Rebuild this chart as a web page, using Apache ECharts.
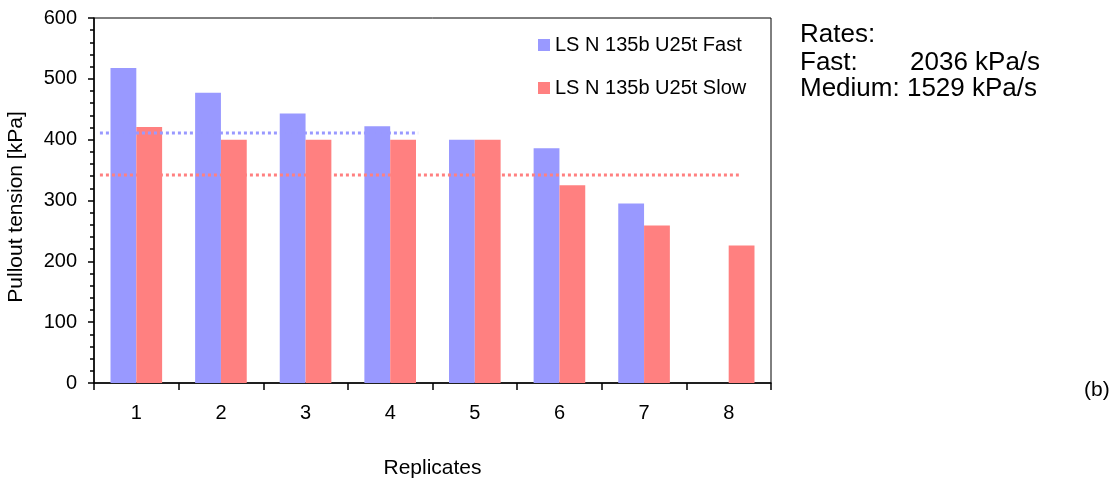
<!DOCTYPE html>
<html>
<head>
<meta charset="utf-8">
<script src="https://cdn.jsdelivr.net/npm/echarts@6/dist/echarts.min.js"></script>
<style>
  html, body { margin: 0; padding: 0; background: #fff; }
  #chart { width: 1117px; height: 484px; }
</style>
</head>
<body>
<div id="chart"></div>
<script>
// ---- data ----
const categories = ['1', '2', '3', '4', '5', '6', '7', '8'];
const fastValues = [518, 477, 443, 422, 400, 386, 295, null];
const slowValues = [421, 400, 400, 400, 400, 325, 259, 226];
const seriesNames = ['LS N 135b U25t Fast', 'LS N 135b U25t Slow'];
const avgFast = 411;
const avgSlow = 342;
// extents of the average lines, in category units along the axis
const avgFastSpan = [0.07, 3.83];
const avgSlowSpan = [0.07, 7.62];
const yTicks = { min: 0, max: 600, interval: 100 };
const yAxisTitle = 'Pullout tension [kPa]';
const xAxisTitle = 'Replicates';
const ratesLines = ['Rates:', 'Fast:', '2036 kPa/s', 'Medium: 1529 kPa/s'];
const panelLabel = '(b)';

const FONT = 'Liberation Sans, Arial, sans-serif';
const BLUE = '#9999FF';
const RED = '#FF8080';

const chart = echarts.init(document.getElementById('chart'), null, { renderer: 'canvas' });

const option = {
  animation: false,
  backgroundColor: '#fff',
  textStyle: { fontFamily: FONT, color: '#000' },
  grid: {
    left: 94, right: 346, top: 18, bottom: 101,
    show: true, borderColor: '#000', borderWidth: 1, backgroundColor: 'transparent'
  },
  legend: {
    orient: 'vertical',
    left: 538, top: 35,
    padding: 0,
    itemWidth: 12, itemHeight: 12, itemGap: 23,
    icon: 'rect',
    textStyle: { fontFamily: FONT, fontSize: 20, color: '#000', lineHeight: 20 },
    data: seriesNames
  },
  xAxis: [
    {
      type: 'category',
      data: categories,
      name: xAxisTitle,
      nameLocation: 'middle',
      nameGap: 75,
      nameTextStyle: { fontFamily: FONT, fontSize: 21, color: '#000' },
      axisLine: { lineStyle: { color: '#000', width: 1.5 } },
      axisTick: { show: true, length: 7, inside: false, lineStyle: { color: '#000', width: 1.5 } },
      axisLabel: { fontFamily: FONT, fontSize: 20, color: '#000', margin: 20, interval: 0 },
      splitLine: { show: false }
    },
    {
      type: 'value', min: 0, max: categories.length, show: false
    }
  ],
  yAxis: {
    type: 'value',
    min: yTicks.min, max: yTicks.max, interval: yTicks.interval,
    axisLine: { show: true, lineStyle: { color: '#000', width: 1.5 } },
    axisTick: { show: true, length: 6, inside: false, lineStyle: { color: '#000', width: 1.5 } },
    minorTick: { show: true, splitNumber: 5, length: 4, lineStyle: { color: '#000', width: 1.5 } },
    axisLabel: { fontFamily: FONT, fontSize: 20, color: '#000', margin: 17 },
    splitLine: { show: false }
  },
  series: [
    {
      name: seriesNames[0], type: 'bar', data: fastValues,
      itemStyle: { color: BLUE },
      barGap: '0%', barCategoryGap: '39%', z: 2
    },
    {
      name: seriesNames[1], type: 'bar', data: slowValues,
      itemStyle: { color: RED },
      barGap: '0%', barCategoryGap: '39%', z: 2
    },
    {
      name: 'avgFast', type: 'line', xAxisIndex: 1,
      data: [[avgFastSpan[0], avgFast], [avgFastSpan[1], avgFast]],
      symbol: 'none', silent: true, z: 3,
      lineStyle: { color: BLUE, width: 3, type: [3, 3] }
    },
    {
      name: 'avgSlow', type: 'line', xAxisIndex: 1,
      data: [[avgSlowSpan[0], avgSlow], [avgSlowSpan[1], avgSlow]],
      symbol: 'none', silent: true, z: 3,
      lineStyle: { color: RED, width: 3, type: [3, 3] }
    }
  ],
  graphic: [
    {
      type: 'text', x: 16, y: 207, rotation: Math.PI / 2,
      style: { text: yAxisTitle, font: '21px ' + FONT, fill: '#000', align: 'center', verticalAlign: 'middle' }
    },
    { type: 'text', left: 800, top: 22, style: { text: ratesLines[0], font: '26px ' + FONT, fill: '#000' } },
    { type: 'text', left: 800, top: 50, style: { text: ratesLines[1], font: '26px ' + FONT, fill: '#000' } },
    { type: 'text', left: 910, top: 50, style: { text: ratesLines[2], font: '26px ' + FONT, fill: '#000' } },
    { type: 'text', left: 800, top: 76, style: { text: ratesLines[3], font: '26px ' + FONT, fill: '#000' } },
    { type: 'text', left: 1084, top: 380, style: { text: panelLabel, font: '21px ' + FONT, fill: '#000' } }
  ]
};

chart.setOption(option);
</script>
</body>
</html>
